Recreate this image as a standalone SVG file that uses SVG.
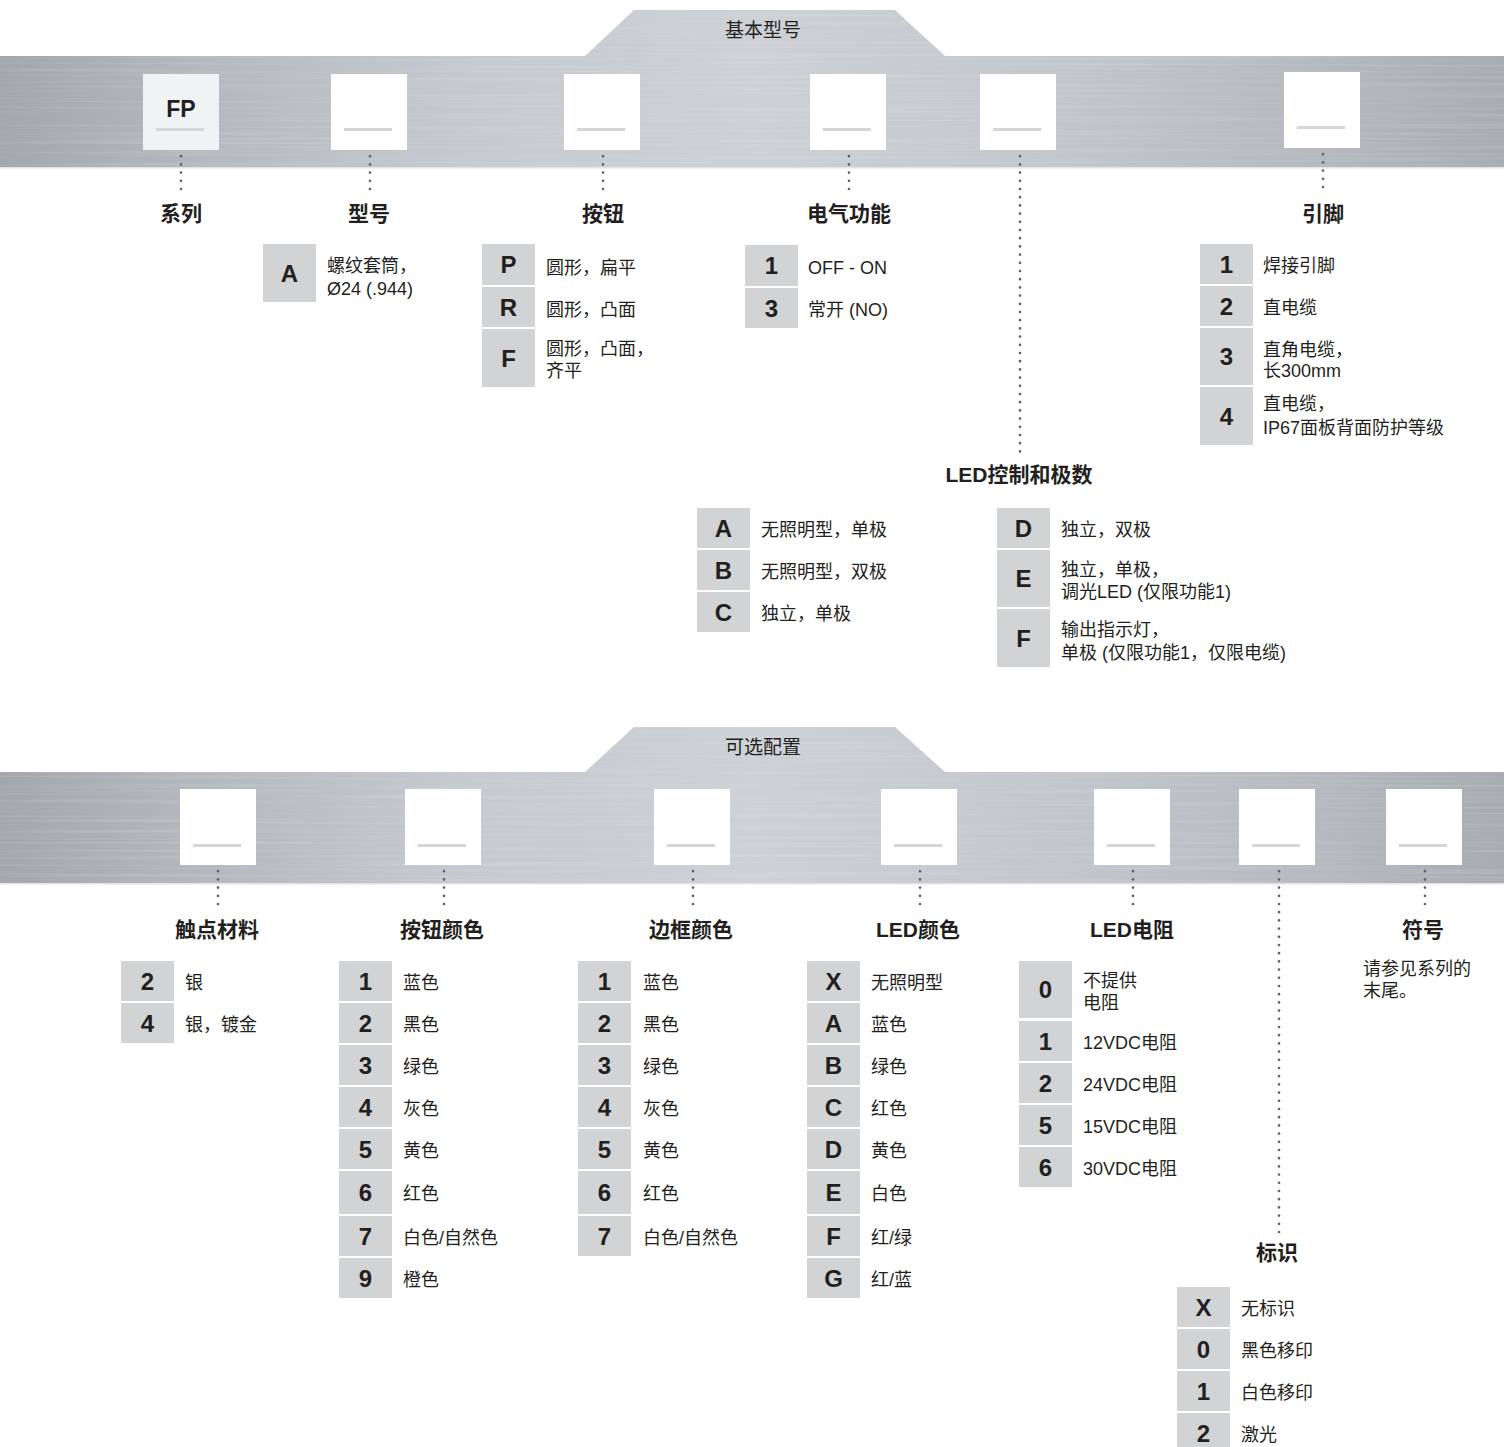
<svg xmlns="http://www.w3.org/2000/svg" width="1504" height="1447" viewBox="0 0 1504 1447">
<defs>
<style>
.cell{fill:#d1d3d4}
.code{font-family:"Liberation Sans","Noto Sans CJK SC",sans-serif;font-weight:bold;font-size:24px;fill:#231f20;text-anchor:middle}
.txt{font-family:"Liberation Sans","Noto Sans CJK SC",sans-serif;font-size:18px;fill:#231f20}
.lbl{font-family:"Liberation Sans","Noto Sans CJK SC",sans-serif;font-weight:bold;font-size:21px;fill:#231f20;text-anchor:middle}
.ttl{font-family:"Liberation Sans","Noto Sans CJK SC",sans-serif;font-size:19px;fill:#231f20;text-anchor:middle}
.dot{stroke:#626366;stroke-width:2.7;stroke-linecap:round;stroke-dasharray:0 8.2;fill:none}
.box{fill:#ffffff}
.ul{fill:#d6d6d6}
.band{fill:url(#metal)}
.edge{fill:#e3e4e6}
</style>
<linearGradient id="metal" gradientUnits="userSpaceOnUse" x1="0" y1="0" x2="1504" y2="0">
<stop offset="0" stop-color="#a3a7ad"/>
<stop offset="0.12" stop-color="#b3b7bd"/>
<stop offset="0.3" stop-color="#c5c8ce"/>
<stop offset="0.5" stop-color="#cdd0d5"/>
<stop offset="0.7" stop-color="#c3c6cc"/>
<stop offset="0.88" stop-color="#b5b8be"/>
<stop offset="1" stop-color="#a8acb2"/>
</linearGradient>
<filter id="brushed" x="0" y="0" width="100%" height="100%">
<feTurbulence type="fractalNoise" baseFrequency="0.003 0.45" numOctaves="2" seed="7" result="n"/>
<feColorMatrix in="n" type="matrix" values="0 0 0 0 1  0 0 0 0 1  0 0 0 0 1  1.0 0 0 0 -0.45" result="w"/>
<feComposite in="w" in2="SourceGraphic" operator="in"/>
</filter>
</defs>

<g id="band-basic">
<path class="band" d="M0,56 H585 L634,10 H895 L945,56 H1504 V168 H0 Z"/>
<path d="M0,56 H585 L634,10 H895 L945,56 H1504 V168 H0 Z" fill="#ffffff" filter="url(#brushed)" opacity="0.35"/>
<rect class="edge" x="0" y="167" width="1504" height="1.5"/>
<text class="ttl" x="763" y="37">基本型号</text>
</g>

<g id="band-optional">
<path class="band" d="M0,772 H585 L634,727 H895 L945,772 H1504 V884 H0 Z"/>
<path d="M0,772 H585 L634,727 H895 L945,772 H1504 V884 H0 Z" fill="#ffffff" filter="url(#brushed)" opacity="0.35"/>
<rect class="edge" x="0" y="883" width="1504" height="1.5"/>
<text class="ttl" x="763" y="754">可选配置</text>
</g>

<g id="connectors">
<line class="dot" x1="181" y1="148" x2="181" y2="196"/>
<line class="dot" x1="370" y1="148" x2="370" y2="196"/>
<line class="dot" x1="603" y1="148" x2="603" y2="196"/>
<line class="dot" x1="849" y1="148" x2="849" y2="196"/>
<line class="dot" x1="1020" y1="148" x2="1020" y2="458"/>
<line class="dot" x1="1323" y1="146" x2="1323" y2="194"/>
<line class="dot" x1="218" y1="863" x2="218" y2="912"/>
<line class="dot" x1="444" y1="863" x2="444" y2="912"/>
<line class="dot" x1="693" y1="863" x2="693" y2="912"/>
<line class="dot" x1="920" y1="863" x2="920" y2="912"/>
<line class="dot" x1="1133" y1="863" x2="1133" y2="912"/>
<line class="dot" x1="1279" y1="863" x2="1279" y2="1236"/>
<line class="dot" x1="1425" y1="863" x2="1425" y2="912"/>
</g>

<g id="node-series">
<rect x="143" y="74" width="76" height="76" fill="#f1f2f3"/>
<rect class="ul" x="156" y="128" width="48" height="3"/>
<text x="181" y="117" font-family="Liberation Sans, sans-serif" font-weight="bold" font-size="23" fill="#231f20" text-anchor="middle">FP</text>
<text class="lbl" x="181" y="221">系列</text>
</g>

<g id="node-model">
<rect class="box" x="331" y="74" width="76" height="76"/>
<rect class="ul" x="344" y="128" width="48" height="3"/>
<text class="lbl" x="369" y="221">型号</text>
<rect class="cell" x="263" y="244" width="53" height="58"/>
<text class="code" x="289.5" y="281.5">A</text>
<text class="txt" x="327" y="271.5">螺纹套筒，</text>
<text class="txt" x="327" y="294.5">Ø24 (.944)</text>
</g>

<g id="node-button">
<rect class="box" x="564" y="74" width="76" height="76"/>
<rect class="ul" x="577" y="128" width="48" height="3"/>
<text class="lbl" x="603" y="221">按钮</text>
<rect class="cell" x="482" y="244" width="53" height="41"/>
<text class="code" x="508.5" y="273">P</text>
<text class="txt" x="546" y="273.5">圆形，扁平</text>
<rect class="cell" x="482" y="287" width="53" height="40"/>
<text class="code" x="508.5" y="315.5">R</text>
<text class="txt" x="546" y="315.5">圆形，凸面</text>
<rect class="cell" x="482" y="329" width="53" height="58"/>
<text class="code" x="508.5" y="366.5">F</text>
<text class="txt" x="546" y="354.5">圆形，凸面，</text>
<text class="txt" x="546" y="376.5">齐平</text>
</g>

<g id="node-function">
<rect class="box" x="810" y="74" width="76" height="76"/>
<rect class="ul" x="823" y="128" width="48" height="3"/>
<text class="lbl" x="849" y="221">电气功能</text>
<rect class="cell" x="745" y="245" width="53" height="41"/>
<text class="code" x="771.5" y="274">1</text>
<text class="txt" x="808" y="273.5">OFF - ON</text>
<rect class="cell" x="745" y="288" width="53" height="40"/>
<text class="code" x="771.5" y="316.5">3</text>
<text class="txt" x="808" y="315.5">常开 (NO)</text>
</g>

<g id="node-led-control">
<rect class="box" x="980" y="74" width="76" height="76"/>
<rect class="ul" x="993" y="128" width="48" height="3"/>
<text class="lbl" x="1019" y="482">LED控制和极数</text>
<rect class="cell" x="697" y="508" width="53" height="40"/>
<text class="code" x="723.5" y="536.5">A</text>
<text class="txt" x="761" y="535.5">无照明型，单极</text>
<rect class="cell" x="697" y="550" width="53" height="40"/>
<text class="code" x="723.5" y="578.5">B</text>
<text class="txt" x="761" y="577.5">无照明型，双极</text>
<rect class="cell" x="697" y="592" width="53" height="40"/>
<text class="code" x="723.5" y="620.5">C</text>
<text class="txt" x="761" y="619.5">独立，单极</text>
<rect class="cell" x="997" y="508" width="53" height="40"/>
<text class="code" x="1023.5" y="536.5">D</text>
<text class="txt" x="1061" y="535.5">独立，双极</text>
<rect class="cell" x="997" y="550" width="53" height="57"/>
<text class="code" x="1023.5" y="587">E</text>
<text class="txt" x="1061" y="575.5">独立，单极，</text>
<text class="txt" x="1061" y="597.5">调光LED (仅限功能1)</text>
<rect class="cell" x="997" y="609" width="53" height="58"/>
<text class="code" x="1023.5" y="646.5">F</text>
<text class="txt" x="1061" y="635.5">输出指示灯，</text>
<text class="txt" x="1061" y="658.5">单极 (仅限功能1，仅限电缆)</text>
</g>

<g id="node-terminals">
<rect class="box" x="1284" y="72" width="76" height="76"/>
<rect class="ul" x="1297" y="126" width="48" height="3"/>
<text class="lbl" x="1323" y="221">引脚</text>
<rect class="cell" x="1200" y="244" width="53" height="40"/>
<text class="code" x="1226.5" y="272.5">1</text>
<text class="txt" x="1263" y="271.5">焊接引脚</text>
<rect class="cell" x="1200" y="286" width="53" height="40"/>
<text class="code" x="1226.5" y="314.5">2</text>
<text class="txt" x="1263" y="313.5">直电缆</text>
<rect class="cell" x="1200" y="328" width="53" height="57"/>
<text class="code" x="1226.5" y="365">3</text>
<text class="txt" x="1263" y="355.5">直角电缆，</text>
<text class="txt" x="1263" y="376.5">长300mm</text>
<rect class="cell" x="1200" y="387" width="53" height="58"/>
<text class="code" x="1226.5" y="424.5">4</text>
<text class="txt" x="1263" y="409.5">直电缆，</text>
<text class="txt" x="1263" y="433.5">IP67面板背面防护等级</text>
</g>

<g id="node-contact">
<rect class="box" x="180" y="789" width="76" height="76"/>
<rect class="ul" x="193" y="844" width="48" height="3"/>
<text class="lbl" x="217" y="937">触点材料</text>
<rect class="cell" x="121" y="961" width="53" height="40"/>
<text class="code" x="147.5" y="989.5">2</text>
<text class="txt" x="185" y="988.5">银</text>
<rect class="cell" x="121" y="1003" width="53" height="40"/>
<text class="code" x="147.5" y="1031.5">4</text>
<text class="txt" x="185" y="1030.5">银，镀金</text>
</g>

<g id="node-button-color">
<rect class="box" x="405" y="789" width="76" height="76"/>
<rect class="ul" x="418" y="844" width="48" height="3"/>
<text class="lbl" x="442" y="937">按钮颜色</text>
<rect class="cell" x="339" y="961" width="53" height="40"/><text class="code" x="365.5" y="989.5">1</text><text class="txt" x="403" y="988.5">蓝色</text>
<rect class="cell" x="339" y="1003" width="53" height="40"/><text class="code" x="365.5" y="1031.5">2</text><text class="txt" x="403" y="1030.5">黑色</text>
<rect class="cell" x="339" y="1045" width="53" height="40"/><text class="code" x="365.5" y="1073.5">3</text><text class="txt" x="403" y="1072.5">绿色</text>
<rect class="cell" x="339" y="1087" width="53" height="40"/><text class="code" x="365.5" y="1115.5">4</text><text class="txt" x="403" y="1114.5">灰色</text>
<rect class="cell" x="339" y="1129" width="53" height="40"/><text class="code" x="365.5" y="1157.5">5</text><text class="txt" x="403" y="1156.5">黄色</text>
<rect class="cell" x="339" y="1171" width="53" height="43"/><text class="code" x="365.5" y="1201">6</text><text class="txt" x="403" y="1200">红色</text>
<rect class="cell" x="339" y="1216" width="53" height="40"/><text class="code" x="365.5" y="1244.5">7</text><text class="txt" x="403" y="1243.5">白色/自然色</text>
<rect class="cell" x="339" y="1258" width="53" height="40"/><text class="code" x="365.5" y="1286.5">9</text><text class="txt" x="403" y="1285.5">橙色</text>
</g>

<g id="node-bezel-color">
<rect class="box" x="654" y="789" width="76" height="76"/>
<rect class="ul" x="667" y="844" width="48" height="3"/>
<text class="lbl" x="691" y="937">边框颜色</text>
<rect class="cell" x="578" y="961" width="53" height="40"/><text class="code" x="604.5" y="989.5">1</text><text class="txt" x="643" y="988.5">蓝色</text>
<rect class="cell" x="578" y="1003" width="53" height="40"/><text class="code" x="604.5" y="1031.5">2</text><text class="txt" x="643" y="1030.5">黑色</text>
<rect class="cell" x="578" y="1045" width="53" height="40"/><text class="code" x="604.5" y="1073.5">3</text><text class="txt" x="643" y="1072.5">绿色</text>
<rect class="cell" x="578" y="1087" width="53" height="40"/><text class="code" x="604.5" y="1115.5">4</text><text class="txt" x="643" y="1114.5">灰色</text>
<rect class="cell" x="578" y="1129" width="53" height="40"/><text class="code" x="604.5" y="1157.5">5</text><text class="txt" x="643" y="1156.5">黄色</text>
<rect class="cell" x="578" y="1171" width="53" height="43"/><text class="code" x="604.5" y="1201">6</text><text class="txt" x="643" y="1200">红色</text>
<rect class="cell" x="578" y="1216" width="53" height="40"/><text class="code" x="604.5" y="1244.5">7</text><text class="txt" x="643" y="1243.5">白色/自然色</text>
</g>

<g id="node-led-color">
<rect class="box" x="881" y="789" width="76" height="76"/>
<rect class="ul" x="894" y="844" width="48" height="3"/>
<text class="lbl" x="918" y="937">LED颜色</text>
<rect class="cell" x="807" y="961" width="53" height="40"/><text class="code" x="833.5" y="989.5">X</text><text class="txt" x="871" y="988.5">无照明型</text>
<rect class="cell" x="807" y="1003" width="53" height="40"/><text class="code" x="833.5" y="1031.5">A</text><text class="txt" x="871" y="1030.5">蓝色</text>
<rect class="cell" x="807" y="1045" width="53" height="40"/><text class="code" x="833.5" y="1073.5">B</text><text class="txt" x="871" y="1072.5">绿色</text>
<rect class="cell" x="807" y="1087" width="53" height="40"/><text class="code" x="833.5" y="1115.5">C</text><text class="txt" x="871" y="1114.5">红色</text>
<rect class="cell" x="807" y="1129" width="53" height="40"/><text class="code" x="833.5" y="1157.5">D</text><text class="txt" x="871" y="1156.5">黄色</text>
<rect class="cell" x="807" y="1171" width="53" height="43"/><text class="code" x="833.5" y="1201">E</text><text class="txt" x="871" y="1200">白色</text>
<rect class="cell" x="807" y="1216" width="53" height="40"/><text class="code" x="833.5" y="1244.5">F</text><text class="txt" x="871" y="1243.5">红/绿</text>
<rect class="cell" x="807" y="1258" width="53" height="40"/><text class="code" x="833.5" y="1286.5">G</text><text class="txt" x="871" y="1285.5">红/蓝</text>
</g>

<g id="node-led-resistor">
<rect class="box" x="1094" y="789" width="76" height="76"/>
<rect class="ul" x="1107" y="844" width="48" height="3"/>
<text class="lbl" x="1132" y="937">LED电阻</text>
<rect class="cell" x="1019" y="961" width="53" height="57"/><text class="code" x="1045.5" y="998">0</text>
<text class="txt" x="1083" y="986.5">不提供</text><text class="txt" x="1083" y="1008.5">电阻</text>
<rect class="cell" x="1019" y="1021" width="53" height="40"/><text class="code" x="1045.5" y="1049.5">1</text><text class="txt" x="1083" y="1049">12VDC电阻</text>
<rect class="cell" x="1019" y="1063" width="53" height="40"/><text class="code" x="1045.5" y="1091.5">2</text><text class="txt" x="1083" y="1091">24VDC电阻</text>
<rect class="cell" x="1019" y="1105" width="53" height="40"/><text class="code" x="1045.5" y="1133.5">5</text><text class="txt" x="1083" y="1133">15VDC电阻</text>
<rect class="cell" x="1019" y="1147" width="53" height="40"/><text class="code" x="1045.5" y="1175.5">6</text><text class="txt" x="1083" y="1175">30VDC电阻</text>
</g>

<g id="node-marking">
<rect class="box" x="1239" y="789" width="76" height="76"/>
<rect class="ul" x="1252" y="844" width="48" height="3"/>
<text class="lbl" x="1277" y="1260">标识</text>
<rect class="cell" x="1177" y="1287" width="53" height="40"/><text class="code" x="1203.5" y="1315.5">X</text><text class="txt" x="1241" y="1314.5">无标识</text>
<rect class="cell" x="1177" y="1329" width="53" height="40"/><text class="code" x="1203.5" y="1357.5">0</text><text class="txt" x="1241" y="1356.5">黑色移印</text>
<rect class="cell" x="1177" y="1371" width="53" height="40"/><text class="code" x="1203.5" y="1399.5">1</text><text class="txt" x="1241" y="1398.5">白色移印</text>
<rect class="cell" x="1177" y="1413" width="53" height="40"/><text class="code" x="1203.5" y="1441.5">2</text><text class="txt" x="1241" y="1440.5">激光</text>
</g>

<g id="node-symbol">
<rect class="box" x="1386" y="789" width="76" height="76"/>
<rect class="ul" x="1399" y="844" width="48" height="3"/>
<text class="lbl" x="1423" y="937">符号</text>
<text class="txt" x="1363" y="974.5">请参见系列的</text>
<text class="txt" x="1363" y="996.5">末尾。</text>
</g>
</svg>
